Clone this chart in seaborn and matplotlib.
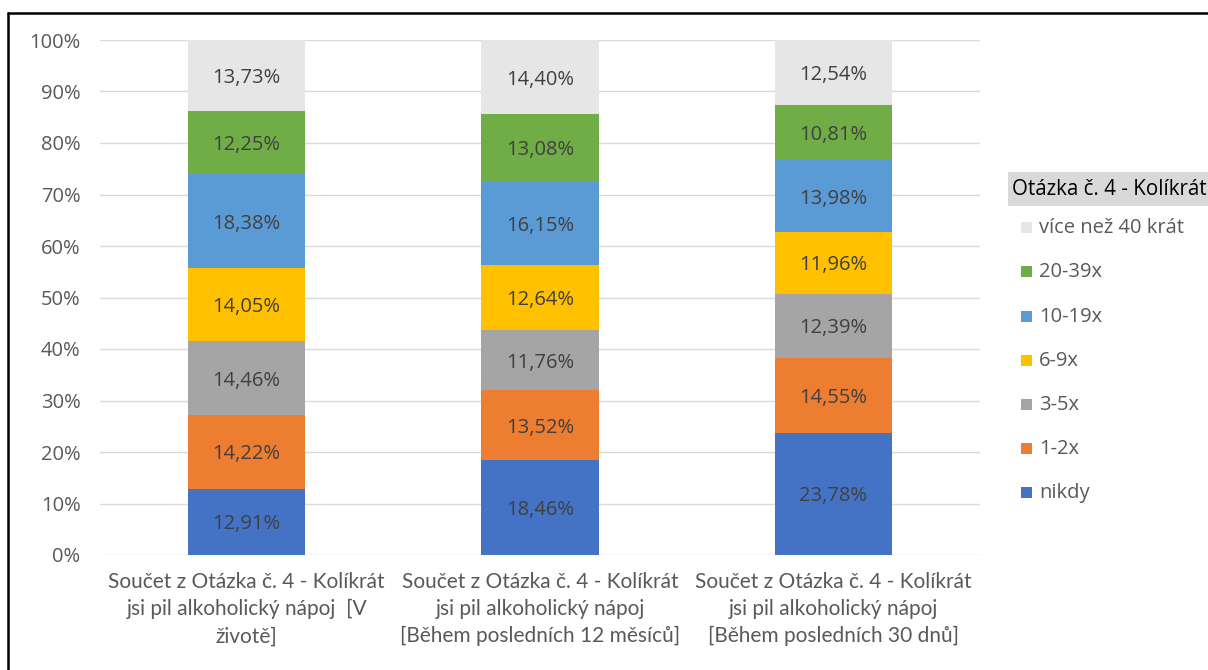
import matplotlib
matplotlib.use("Agg")
import matplotlib.pyplot as plt
from matplotlib.lines import Line2D
from matplotlib.patches import Rectangle
import seaborn as sns
import pandas as pd
import numpy as np

categories = [
    "Součet z Otázka č. 4 - Kolíkrát\njsi pil alkoholický nápoj  [V\nživotě]",
    "Součet z Otázka č. 4 - Kolíkrát\njsi pil alkoholický nápoj\n[Během posledních 12 měsíců]",
    "Součet z Otázka č. 4 - Kolíkrát\njsi pil alkoholický nápoj\n[Během posledních 30 dnů]",
]
series_names = ["nikdy", "1-2x", "3-5x", "6-9x", "10-19x", "20-39x", "více než 40 krát"]
nikdy = [12.91, 18.46, 23.78]
x1_2 = [14.22, 13.52, 14.55]
x3_5 = [14.46, 11.76, 12.39]
x6_9 = [14.05, 12.64, 11.96]
x10_19 = [18.38, 16.15, 13.98]
x20_39 = [12.25, 13.08, 10.81]
vice40 = [13.73, 14.40, 12.54]
colors = ["#4472C4", "#ED7D31", "#A5A5A5", "#FFC000", "#5B9BD5", "#70AD47", "#E7E6E6"]
legend_title = "Otázka č. 4 - Kolíkrát"
yticks = [0, 10, 20, 30, 40, 50, 60, 70, 80, 90, 100]

series_values = [nikdy, x1_2, x3_5, x6_9, x10_19, x20_39, vice40]

sns.set_theme(style="white")
plt.rcParams["font.family"] = ["Open Sans", "DejaVu Sans"]

fig = plt.figure(figsize=(12.08, 6.70), dpi=100)
ax = fig.add_axes([100 / 1208, 1 - 555 / 670, 880 / 1208, 515 / 670])

bottom = np.zeros(len(categories))
for name, vals, col in zip(series_names, series_values, colors):
    df = pd.DataFrame({"cat": categories, "val": vals})
    sns.barplot(data=df, x="cat", y="val", color=col, bottom=bottom.copy(),
                width=0.4, ax=ax, saturation=1, edgecolor="none", linewidth=0, zorder=3)
    for i, v in enumerate(vals):
        ax.text(i, bottom[i] + v / 2, f"{v:.2f}%".replace(".", ","), ha="center",
                va="center_baseline", fontsize=14.5, color="#404040", zorder=4)
    bottom += np.array(vals)

ax.set_xlim(-0.5, 2.5)
ax.set_ylim(0, 100)
ax.set_yticks(yticks)
ax.set_yticklabels([f"{t}%" for t in yticks], fontsize=14.5, color="#595959")
ax.tick_params(axis="y", length=0, pad=14)
ax.tick_params(axis="x", length=0, pad=12)
ax.set_xticks(range(len(categories)))
ax.set_xticklabels(categories, fontsize=15, color="#595959", linespacing=1.45,
                   family=["Lato", "DejaVu Sans"])
ax.set_xlabel("")
ax.set_ylabel("")
ax.grid(axis="y", color="#D9D9D9", linewidth=1, zorder=0)
ax.grid(axis="x", visible=False)
for s in ax.spines.values():
    s.set_visible(False)

# Legend
fig.patches.append(Rectangle((1008 / 1208, 1 - 206 / 670), 200 / 1208, 34 / 670,
                             transform=fig.transFigure, facecolor="#D9D9D9", edgecolor="none"))
fig.text(1012 / 1208, 1 - 189 / 670, legend_title, fontsize=14.8, color="#000000", va="center", ha="left")
item_y = [228, 272, 317, 361, 405, 449, 493]
for y, name, col in zip(item_y, series_names[::-1], colors[::-1]):
    fig.patches.append(Rectangle((1021 / 1208, 1 - (y + 5) / 670), 11 / 1208, 11 / 670,
                                 transform=fig.transFigure, facecolor=col, edgecolor="none"))
    fig.text(1039 / 1208, 1 - y / 670, name, fontsize=14.5, color="#595959", va="center", ha="left")

# Border
fig.add_artist(Line2D([8 / 1208, 1.0], [1 - 13 / 670, 1 - 13 / 670], color="black", linewidth=1.8,
                      transform=fig.transFigure))
fig.add_artist(Line2D([8 / 1208, 8 / 1208], [0, 1 - 13 / 670], color="black", linewidth=1.8,
                      transform=fig.transFigure))

fig.savefig("out.png", dpi=100)
